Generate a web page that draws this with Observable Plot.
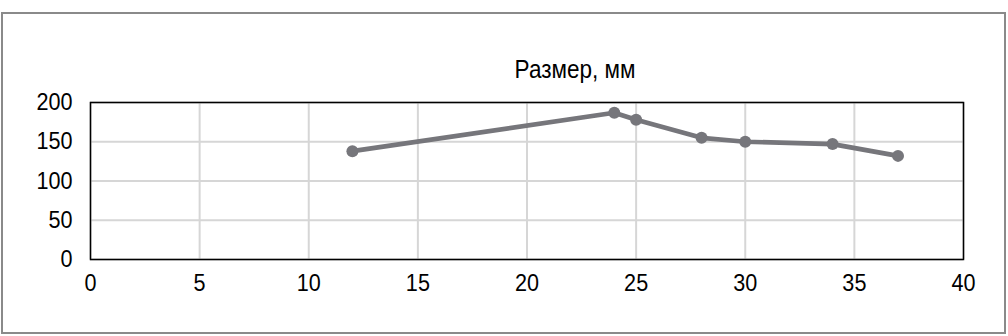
<!DOCTYPE html>
<html><head><meta charset="utf-8">
<script src="https://cdn.jsdelivr.net/npm/d3@7"></script>
<script src="https://cdn.jsdelivr.net/npm/@observablehq/plot@0.6"></script>
<style>
html,body{margin:0;padding:0;background:#fff;}
#wrap{position:relative;width:1008px;height:336px;}
#border{position:absolute;left:1px;top:12px;width:1001px;height:318px;border:2px solid #8a8a8a;pointer-events:none;}
</style></head>
<body><div id="wrap"><div id="border"></div></div>
<script>
const sizes = [12, 24, 25, 28, 30, 34, 37];
const values = [138, 187, 178, 155, 150, 147, 132];
const xTicks = [0, 5, 10, 15, 20, 25, 30, 35, 40];
const yTicks = [0, 50, 100, 150, 200];
const title = "Размер, мм";

const data = sizes.map((s, i) => ({x: s, y: values[i]}));
const font = "'Liberation Sans', Arial, sans-serif";
const lineColor = "#76767b";

const chart = Plot.plot({
  width: 1008, height: 336,
  marginLeft: 90, marginRight: 45, marginTop: 102, marginBottom: 77,
  style: {fontFamily: font, background: "transparent", overflow: "visible"},
  x: {domain: [0, 40], ticks: xTicks},
  y: {domain: [0, 200], ticks: yTicks},
  marks: [
    Plot.gridX(xTicks, {stroke: "#d6d6d6", strokeOpacity: 1, strokeWidth: 2}),
    Plot.gridY(yTicks, {stroke: "#d6d6d6", strokeOpacity: 1, strokeWidth: 2}),
    Plot.frame({stroke: "#000", strokeWidth: 1.5}),
    Plot.axisX(xTicks, {tickSize: 0, tickPadding: 14, fontSize: 24, fill: "#000", label: null}),
    Plot.axisY(yTicks, {tickSize: 0, tickPadding: 18, fontSize: 24, fill: "#000", label: null}),
    Plot.line(data, {x: "x", y: "y", stroke: lineColor, strokeWidth: 4.7}),
    Plot.dot(data, {x: "x", y: "y", r: 6, fill: lineColor, stroke: "none"}),
    Plot.text([title], {text: d => d, frameAnchor: "top", lineAnchor: "middle", dx: 48, dy: -33, fontSize: 25, fill: "#000"})
  ]
});
document.getElementById("wrap").prepend(chart);
// condense glyphs horizontally (narrow typeface look)
chart.querySelectorAll("text").forEach(t => {
  const L = t.getComputedTextLength();
  if (L > 0) {
    t.setAttribute("textLength", (L * 0.9).toFixed(2));
    t.setAttribute("lengthAdjust", "spacingAndGlyphs");
  }
});
</script>
</body></html>
